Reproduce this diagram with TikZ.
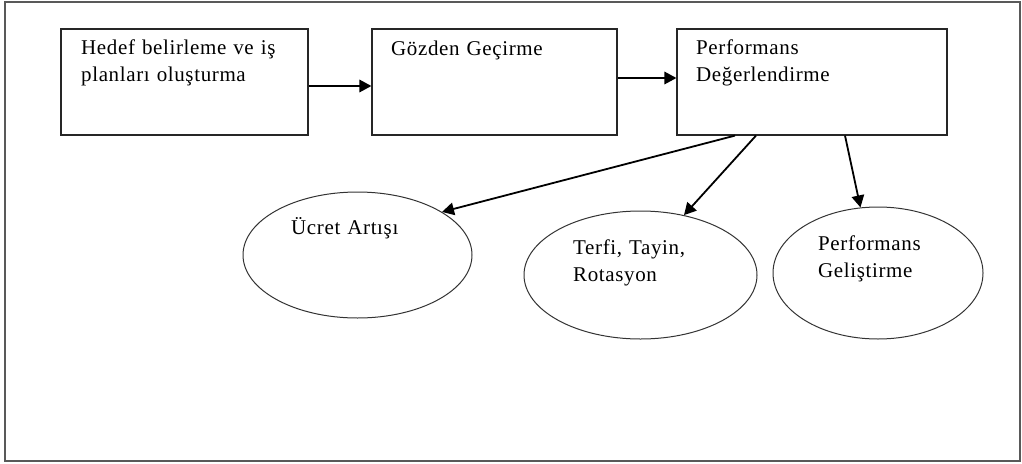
\documentclass[tikz,border=0pt]{standalone}
\usepackage{fontspec}
\setmainfont{Liberation Serif}[LetterSpace=3]
\usetikzlibrary{shapes.geometric,arrows.meta}
\begin{document}
\begin{tikzpicture}[x=1pt,y=-1pt,
  frame/.style={draw=black!65,line width=1.5pt},
  box/.style={draw=black!85,line width=1.2pt,rectangle,inner sep=0pt,minimum height=106pt},
  oval/.style={draw=black!80,line width=1pt,ellipse,inner sep=0pt},
  lbl/.style={font=\fontsize{21}{27}\selectfont,inner sep=0pt,text width=240pt,align=left,anchor=base west},
  arr/.style={-{Triangle[length=12pt,width=12.5pt]},line width=1.8pt,black}]
\useasboundingbox (0,0) rectangle (1022,463);
\draw[frame] (5,2) rectangle (1020,461);
% boxes
\node[box,minimum width=247pt] (b1) at (184.5,82) {};
\node[box,minimum width=245pt] (b2) at (494.5,82) {};
\node[box,minimum width=270pt] (b3) at (812,82) {};
\node[lbl] (t1) at (81,54) {Hedef belirleme ve iş\\planları oluşturma};
\node[lbl] (t2) at (391,55) {Gözden Geçirme};
\node[lbl] (t3) at (696,54) {Performans\\Değerlendirme};
% ellipses
\node[oval,minimum width=229pt,minimum height=126pt] (e1) at (357.5,255) {};
\node[oval,minimum width=233pt,minimum height=128pt] (e2) at (640.5,275) {};
\node[oval,minimum width=210pt,minimum height=132pt] (e3) at (878,273) {};
\node[lbl] (u1) at (291,234) {Ücret Artışı};
\node[lbl] (u2) at (573,254) {Terfi, Tayin,\\Rotasyon};
\node[lbl] (u3) at (818,250) {Performans\\Geliştirme};
% connectors
\draw[arr] ([yshift=-4pt]b1.east) -- ([yshift=-4pt]b2.west);
\draw[arr] ([yshift=4pt]b2.east) -- ([yshift=4pt]b3.west);
\draw[arr] ([xshift=-77pt]b3.south) -- (e1.27);
\draw[arr] ([xshift=-56pt]b3.south) -- (e2.54);
\draw[arr] ([xshift=33pt]b3.south) -- (e3.105);
\end{tikzpicture}
\end{document}
